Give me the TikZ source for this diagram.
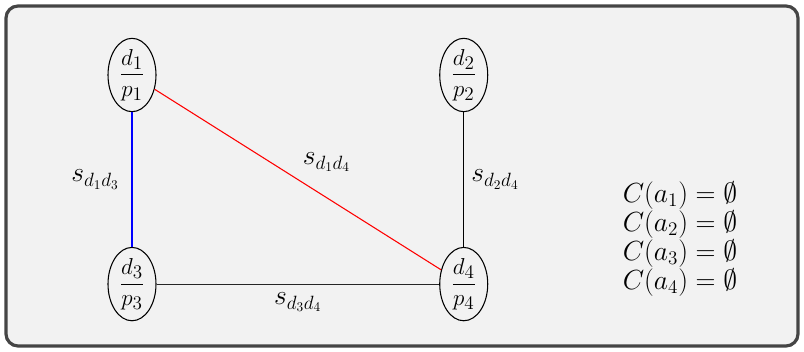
\documentclass[tikz,border=0pt]{standalone}
\usepackage{amsmath}
\usepackage{xcolor}
\usepackage{tikz}
\usetikzlibrary{positioning,shapes.geometric}

\definecolor{framegray}{HTML}{454545}
\definecolor{panelbg}{HTML}{F2F2F2}

\begin{document}
\begin{tikzpicture}[
    x=0.75pt, y=-0.75pt,
    node distance=101pt and 212pt,
    dp/.style={draw, ellipse, line width=0.8pt, inner sep=0pt, minimum width=36pt, minimum height=52pt, font=\fontsize{19}{21}\selectfont},
    link/.style={line width=0.8pt},
    lbl/.style={text=black, font=\fontsize{20}{18.4}\selectfont}
  ]
    \useasboundingbox (0,0) rectangle (804,352);
    \draw[framegray, fill=panelbg, line width=2.4pt, rounded corners=9pt] (6,6) rectangle (798,346);

    \node[dp] (d1) at (132,75) {$\dfrac{d_1}{p_1}$};
    \node[dp, right=of d1] (d2) {$\dfrac{d_2}{p_2}$};
    \node[dp, below=of d1] (d3) {$\dfrac{d_3}{p_3}$};
    \node[dp, below=of d2] (d4) {$\dfrac{d_4}{p_4}$};

    \draw[link, blue] (d1) -- node[lbl, left=6pt] {$s_{d_1d_3}$} (d3);
    \draw[link, red] (d1) -- node[lbl, above right=2pt and 0pt] {$s_{d_1d_4}$} (d4);
    \draw[link, black] (d2) -- node[lbl, right=2pt] {$s_{d_2d_4}$} (d4);
    \draw[link, black!85] (d3) -- node[lbl, below=3pt] {$s_{d_3d_4}$} (d4);

    \node[lbl, align=left, inner sep=0pt] (conf) at (680,239) {$C(a_1)=\emptyset$\\$C(a_2)=\emptyset$\\$C(a_3)=\emptyset$\\$C(a_4)=\emptyset$};
  \end{tikzpicture}
\end{document}
